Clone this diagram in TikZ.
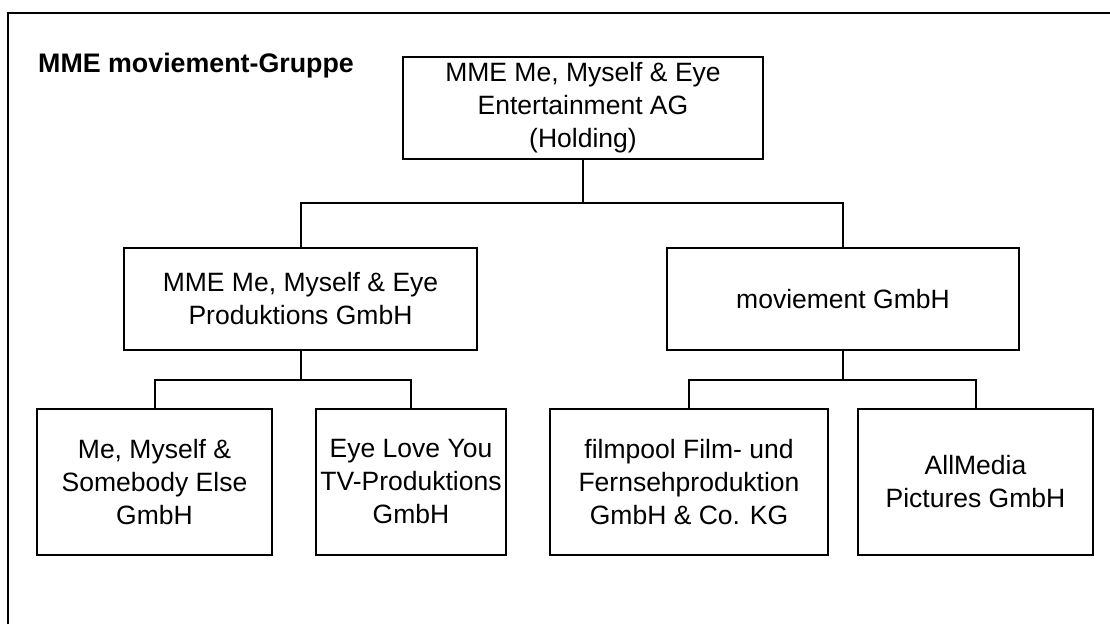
\documentclass[tikz,border=0pt]{standalone}
\usepackage{fontspec}
\setmainfont{Liberation Sans}
\begin{document}
\begin{tikzpicture}[x=1pt,y=-1pt,
  box/.style={draw=black,line width=2pt,rectangle,inner sep=0pt,align=center,
    font=\fontsize{26.5}{33}\selectfont},
  conn/.style={draw=black,line width=2pt},
  frameline/.style={draw=black,line width=2.2pt}]
\useasboundingbox (0,0) rectangle (1110,624);
\coordinate (fbl) at (8,624);
\coordinate (ftr) at (1110,13);
\draw[frameline] (fbl) |- (ftr);
\node[anchor=base west,font=\fontsize{26.8}{33}\selectfont\bfseries,inner sep=0pt] (title) at (38,72) {MME moviement-Gruppe};
\node[box,minimum width=360pt,minimum height=102pt] (hold) at (583,108) {MME Me, Myself \& Eye\\Entertainment AG\\(Holding)};
\node[box,minimum width=353pt,minimum height=102pt] (midL) at (300.5,299) {MME Me, Myself \& Eye\\Produktions GmbH};
\node[box,minimum width=352pt,minimum height=102pt] (midR) at (843,299) {moviement GmbH};
\node[box,minimum width=235pt,minimum height=146pt] (b1) at (154.5,482) {Me, Myself \&\\Somebody Else\\GmbH};
\node[box,minimum width=190pt,minimum height=146pt] (b2) at (411,482) {Eye Love You\\TV-Produktions\\GmbH};
\node[box,minimum width=278pt,minimum height=146pt] (b3) at (689,482) {filmpool Film- und\\Fernsehproduktion\\GmbH \& Co. KG};
\node[box,minimum width=235pt,minimum height=146pt] (b4) at (975.5,482) {AllMedia\\Pictures GmbH};
\coordinate (j1) at (583,203);
\coordinate (j2) at (300.5,380);
\coordinate (j3) at (843,380);
\draw[conn] (hold.south) -- (j1);
\draw[conn] (midL.north) |- (j1) -| (midR.north);
\draw[conn] (midL.south) -- (j2);
\draw[conn] (b1.north) |- (j2) -| (b2.north);
\draw[conn] (midR.south) -- (j3);
\draw[conn] (b3.north) |- (j3) -| (b4.north);
\end{tikzpicture}
\end{document}
